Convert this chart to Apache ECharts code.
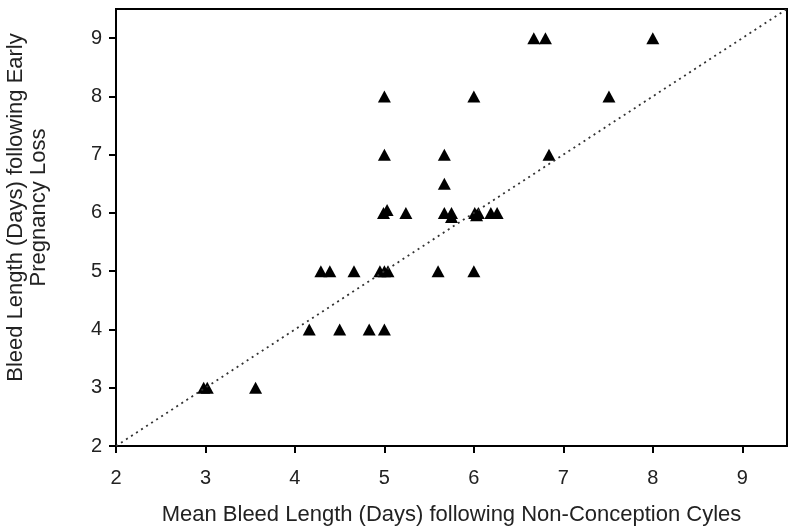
<!DOCTYPE html>
<html><head><meta charset="utf-8">
<script src="https://cdn.jsdelivr.net/npm/echarts@6/dist/echarts.min.js"></script>
<style>html,body{margin:0;padding:0;background:#fff}#c{width:800px;height:531px}</style>
</head><body><div id="c"></div>
<script>
const xTitle = "Mean Bleed Length (Days) following Non-Conception Cyles";
const yTitle = "Bleed Length (Days) following Early\nPregnancy Loss";
const xValues = [2.98,3.02,3.56,4.16,4.50,4.83,5.00,4.29,4.39,4.66,4.95,5.00,5.04,5.60,6.00,
  4.99,5.03,5.24,5.67,5.75,5.75,6.01,6.03,6.05,6.19,6.26,5.67,5.00,5.67,6.84,5.00,6.00,7.51,6.67,6.80,8.00];
const yValues = [3,3,3,4,4,4,4,5,5,5,5,5,5,5,5,
  6,6.05,6,6,6,5.93,6,5.96,6,6,6,6.5,7,7,7,8,8,8,9,9,9];
const refLine = [[2,2],[9.5,9.5]];
const axisTicks = [2,3,4,5,6,7,8,9];

const pts = xValues.map((x,i)=>[x,yValues[i]]);
const chart = echarts.init(document.getElementById('c'));
const font = 'Liberation Sans, Arial, sans-serif';
const axisCommon = {
  type:'value', min:2, max:9.5, interval:1,
  axisLine:{show:true,onZero:false,lineStyle:{color:'#000',width:2}},
  axisTick:{show:true,inside:false,length:7,lineStyle:{color:'#000',width:2}},
  splitLine:{show:false},
  axisLabel:{color:'#222',fontSize:20,fontFamily:font,
    formatter:v=>axisTicks.includes(v)?String(v):'' ,showMaxLabel:false}
};
chart.setOption({
  animation:false,
  grid:{left:116,right:13,top:9,bottom:85,show:true,borderColor:'#000',borderWidth:2,
    backgroundColor:'#fff',containLabel:false,outerBoundsMode:'none'},
  xAxis:Object.assign({},axisCommon,{
    name:xTitle,nameLocation:'middle',nameGap:58,
    nameTextStyle:{color:'#222',fontSize:22,fontFamily:font},
    axisLabel:Object.assign({},axisCommon.axisLabel,{margin:22})
  }),
  yAxis:Object.assign({},axisCommon,{
    name:yTitle,nameLocation:'middle',nameGap:66,nameRotate:90,
    nameTextStyle:{color:'#222',fontSize:22,fontFamily:font,lineHeight:23,align:'center',
      padding:[0,0,0,40]},
    axisLabel:Object.assign({},axisCommon.axisLabel,{margin:14})
  }),
  series:[
    {type:'line',data:refLine,symbol:'none',silent:true,
     lineStyle:{color:'#333',width:1.8,type:[2,4]}},
    {type:'scatter',data:pts,symbol:'triangle',symbolSize:[13,12],
     itemStyle:{color:'#000',opacity:1}}
  ]
});
</script></body></html>
